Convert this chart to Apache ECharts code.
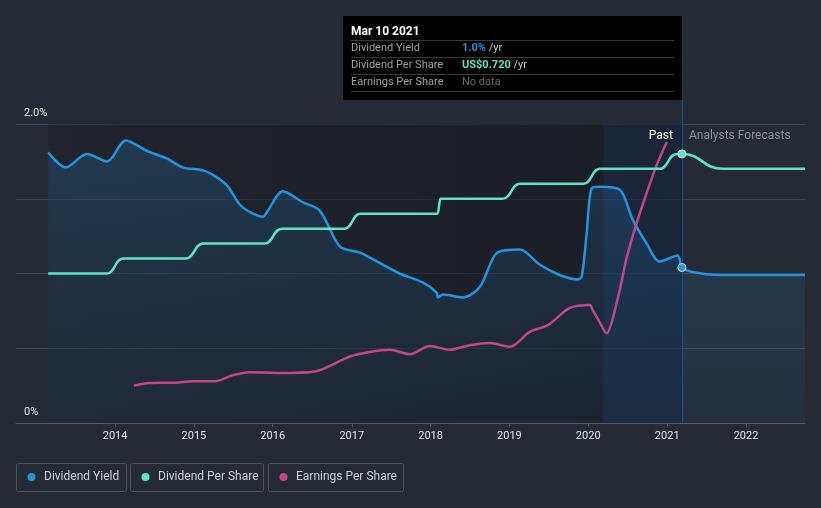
<!DOCTYPE html>
<html><head><meta charset="utf-8">
<script src="https://cdn.jsdelivr.net/npm/echarts@6/dist/echarts.min.js"></script>
<style>html,body{margin:0;padding:0;background:#262a35;}#c{width:821px;height:508px;}</style>
</head><body><div id="c"></div>
<script>
// ---- data ----
const yieldDates = ['2013-02-25','2013-05-18','2013-08-23','2013-11-24','2014-02-20','2014-05-28','2014-08-28','2014-11-10','2015-02-12','2015-03-30','2015-06-03','2015-08-02','2015-10-01','2015-11-16','2015-12-09','2016-02-17','2016-05-15','2016-08-06','2016-11-07','2017-02-08','2017-05-11','2017-08-11','2017-11-26','2018-01-30','2018-02-03','2018-02-27','2018-05-30','2018-08-17','2018-11-07','2019-02-18','2019-05-21','2019-08-22','2019-11-13','2019-12-02','2019-12-25','2020-01-17','2020-02-23','2020-05-26','2020-07-25','2020-09-28','2020-11-27','2021-02-18','2021-03-10','2021-04-28','2021-09-01','2022-10-01'];
const yieldValues = [1.81,1.71,1.80,1.75,1.89,1.82,1.77,1.71,1.69,1.66,1.59,1.46,1.40,1.38,1.42,1.55,1.48,1.42,1.18,1.14,1.07,1.00,0.94,0.87,0.84,0.86,0.84,0.91,1.14,1.16,1.06,0.99,0.96,0.98,1.27,1.57,1.58,1.56,1.36,1.20,1.08,1.12,1.04,1.01,0.99,0.99];

const dpsDates = ['2013-02-25','2013-11-24','2014-02-07','2014-11-24','2015-02-12','2015-11-24','2016-02-12','2016-11-30','2017-02-08','2018-02-02','2018-02-16','2018-12-01','2019-02-18','2019-12-11','2020-02-23','2020-11-27','2021-02-14','2021-03-10','2021-09-15','2022-10-01'];
const dpsValues = [0.40,0.40,0.44,0.44,0.48,0.48,0.52,0.52,0.56,0.56,0.60,0.60,0.64,0.64,0.68,0.68,0.72,0.72,0.68,0.68];

const epsDates = ['2014-03-29','2014-06-10','2014-10-04','2014-12-27','2015-04-08','2015-06-30','2015-09-17','2016-02-03','2016-07-14','2016-12-23','2017-03-25','2017-06-26','2017-09-27','2017-12-28','2018-03-31','2018-07-01','2018-10-02','2019-01-03','2019-04-05','2019-06-28','2019-10-08','2020-01-08','2020-01-22','2020-02-23','2020-03-27','2020-04-19','2020-05-26','2020-06-28','2020-08-13','2020-09-28','2020-11-13','2020-12-30'];
const epsValues = [0.50,0.535,0.54,0.56,0.56,0.64,0.68,0.67,0.69,0.89,0.95,0.98,0.92,1.03,0.98,1.04,1.07,1.02,1.22,1.31,1.54,1.58,1.51,1.35,1.20,1.35,1.78,2.22,2.68,3.08,3.45,3.76];

const yearTicks = [2014,2015,2016,2017,2018,2019,2020,2021,2022];
const yTickLabels = {0:'0%', 2:'2.0%'};
const focusDate = '2021-03-10';
const lastYearStart = '2020-03-10';
const pastStart = '2013-02-25';
const axisStart = '2012-09-29', axisEnd = '2022-10-01';

const C_YIELD = '#2394df', C_DPS = '#5fe3c8', C_EPS = '#c4458d';

const ts = d => new Date(d + 'T00:00:00Z').getTime();
const pairs = (d, v) => d.map((x, i) => [ts(x), v[i]]);
const focusPoint = (d, v) => [[ts(focusDate), v[d.indexOf(focusDate)]]];
const yearTs = yearTicks.map(y => ts(y + '-01-01'));

const chart = echarts.init(document.getElementById('c'));
const FONT = 'Roboto';
const dot = (yAxisIndex, color, data) => ({
  type: 'scatter', yAxisIndex, data, symbol: 'circle', symbolSize: 8, z: 10, silent: true,
  itemStyle: { color, borderColor: '#dfe7f0', borderWidth: 1, opacity: 1 }
});
const option = {
  backgroundColor: '#262a35',
  animation: false,
  textStyle: { fontFamily: FONT },
  grid: { left: 16, right: 16, top: 124, bottom: 85 },
  xAxis: {
    type: 'value',
    min: ts(axisStart), max: ts(axisEnd),
    axisLine: { lineStyle: { color: '#555b67', width: 1 } },
    axisTick: { show: true, length: 4, lineStyle: { color: '#555b67' }, customValues: yearTs },
    axisLabel: { color: '#e6e6e6', fontSize: 11, margin: 8, customValues: yearTs,
      formatter: v => String(new Date(v).getUTCFullYear()) },
    splitLine: { show: false }
  },
  yAxis: [
    { type: 'value', min: 0, max: 2, interval: 0.5,
      axisLine: { show: false }, axisTick: { show: false },
      splitLine: { lineStyle: { color: 'rgba(255,255,255,0.12)', width: 1 } },
      axisLabel: { inside: true, margin: 8, color: '#e6e6e6', fontSize: 11, verticalAlign: 'bottom',
        padding: [0, 0, 5, 0],
        formatter: v => (yTickLabels[v] !== undefined ? yTickLabels[v] : '') } },
    { type: 'value', min: 0, max: 0.8, show: false },
    { type: 'value', min: 0, max: 4, show: false }
  ],
  series: [
    {
      name: 'Dividend Yield', type: 'line', yAxisIndex: 0, smooth: 0.3,
      symbol: 'none', showSymbol: false,
      lineStyle: { color: C_YIELD, width: 2.5 },
      areaStyle: { color: { type: 'linear', x: 0, y: 0, x2: 0, y2: 1, colorStops: [
        { offset: 0, color: 'rgba(35,148,223,0.28)' }, { offset: 1, color: 'rgba(35,148,223,0.08)' }] } },
      data: pairs(yieldDates, yieldValues),
      z: 3,
      markArea: {
        silent: true,
        data: [
          [{ xAxis: ts(pastStart), itemStyle: { color: { type: 'linear', x: 0, y: 0, x2: 1, y2: 0, colorStops: [
              { offset: 0, color: 'rgba(22,24,30,0.35)' }, { offset: 1, color: 'rgba(16,18,22,0.55)' }] } } },
           { xAxis: ts(focusDate) }],
          [{ xAxis: ts(lastYearStart), itemStyle: { color: 'rgba(28,70,140,0.2)' } }, { xAxis: ts(focusDate) }]
        ]
      },
      markLine: {
        silent: true, symbol: 'none', label: { show: false },
        lineStyle: { color: '#1f4f8f', width: 1, type: 'solid' },
        data: [{ xAxis: ts(focusDate) }]
      }
    },
    {
      name: 'Dividend Per Share', type: 'line', yAxisIndex: 1, smooth: 0.5, smoothMonotone: 'x',
      symbol: 'none', showSymbol: false,
      lineStyle: { color: C_DPS, width: 2.5 },
      data: pairs(dpsDates, dpsValues), z: 4
    },
    {
      name: 'Earnings Per Share', type: 'line', yAxisIndex: 2, smooth: 0.3,
      symbol: 'none', showSymbol: false,
      lineStyle: { color: C_EPS, width: 2.5 },
      data: pairs(epsDates, epsValues), z: 3
    },
    dot(0, C_YIELD, focusPoint(yieldDates, yieldValues)),
    dot(1, C_DPS, focusPoint(dpsDates, dpsValues))
  ]
};
chart.setOption(option);

// overlay graphics (tooltip box, labels, legend)
const fx = chart.convertToPixel({ xAxisIndex: 0 }, ts(focusDate));
const legendItems = [
  { name: 'Dividend Yield', color: C_YIELD, x: 16, w: 110 },
  { name: 'Dividend Per Share', color: C_DPS, x: 130, w: 133 },
  { name: 'Earnings Per Share', color: C_EPS, x: 268, w: 135 }
];
const g = [];
g.push({ type: 'line', shape: { x1: Math.round(fx) + 0.5, y1: 100, x2: Math.round(fx) + 0.5, y2: 124 }, style: { stroke: '#1f4f8f', lineWidth: 1 } });
const bx = 343, by = 16, bw = fx - 343, bh = 84;
g.push({ type: 'rect', shape: { x: bx, y: by, width: bw, height: bh }, style: { fill: '#000' } });
g.push({ type: 'text', x: 351, y: 32, style: { text: 'Mar 10 2021', fill: '#fff', font: 'bold 12px ' + FONT, verticalAlign: 'middle' } });
[40, 57, 74, 91].forEach(y => g.push({ type: 'line', shape: { x1: 351, y1: y + 0.5, x2: bx + bw - 8, y2: y + 0.5 }, style: { stroke: '#3a3a3a', lineWidth: 1 } }));
const rows = [
  { y: 48, label: 'Dividend Yield', val: '1.0%', vc: C_YIELD, suffix: ' /yr' },
  { y: 65, label: 'Dividend Per Share', val: 'US$0.720', vc: C_DPS, suffix: ' /yr' },
  { y: 82, label: 'Earnings Per Share', val: 'No data', vc: '#6b6b6b', suffix: '' }
];
rows.forEach(r => {
  g.push({ type: 'text', x: 351, y: r.y, style: { text: r.label, fill: '#a3a3a3', font: '11px ' + FONT, verticalAlign: 'middle' } });
  g.push({ type: 'text', x: 462, y: r.y, style: {
    text: '{v|' + r.val + '}' + (r.suffix ? '{s|' + r.suffix + '}' : ''),
    verticalAlign: 'middle', font: '11px ' + FONT,
    rich: { v: { fill: r.vc, font: (r.suffix ? 'bold ' : '') + '11px ' + FONT }, s: { fill: '#d0d0d0', font: '11px ' + FONT } } } });
});
g.push({ type: 'text', x: fx - 9, y: 136, z: 100, style: { text: 'Past', fill: '#ffffff', font: '12px ' + FONT, align: 'right', verticalAlign: 'middle' } });
g.push({ type: 'text', x: fx + 7, y: 136, z: 100, style: { text: 'Analysts Forecasts', fill: '#8c919b', font: '12px ' + FONT, align: 'left', verticalAlign: 'middle' } });
legendItems.forEach(it => {
  g.push({ type: 'rect', shape: { x: it.x + 0.5, y: 463.5, width: it.w, height: 28, r: 2 }, style: { fill: 'none', stroke: '#4b515d', lineWidth: 1 } });
  g.push({ type: 'circle', shape: { cx: it.x + 15.5, cy: 477, r: 4 }, style: { fill: it.color } });
  g.push({ type: 'text', x: it.x + 28, y: 477, style: { text: it.name, fill: '#cfd2d6', font: '12px ' + FONT, verticalAlign: 'middle' } });
});
chart.setOption({ graphic: { elements: g } });
</script>
</body></html>
